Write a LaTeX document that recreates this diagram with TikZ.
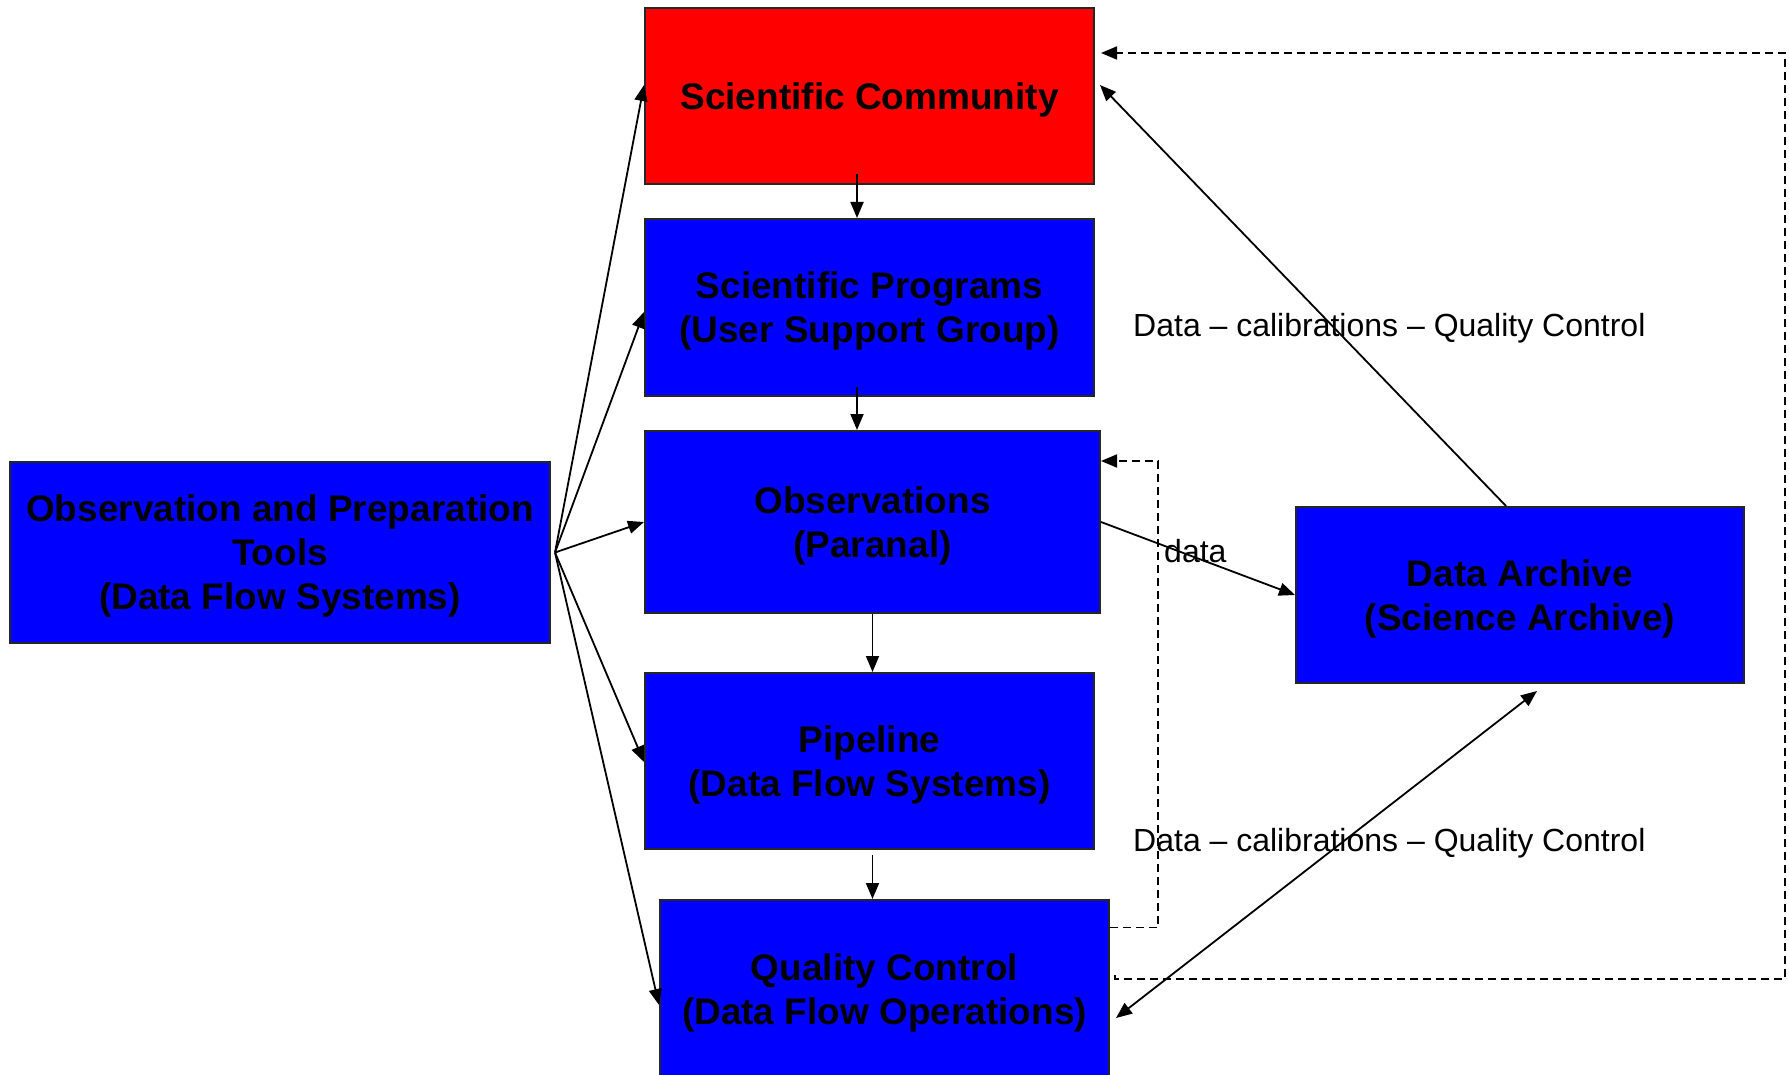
\documentclass[tikz,border=0pt]{standalone}
\usepackage{fontspec}
\setmainfont{Liberation Sans}
\usetikzlibrary{arrows.meta}
\definecolor{boxblue}{RGB}{0,0,255}
\definecolor{boxred}{RGB}{255,0,0}
\begin{document}
\begin{tikzpicture}[x=1pt,y=-1pt,
  unit/.style={draw=black!85, line width=2pt, inner sep=0pt, align=center,
    text depth=-1pt, font=\fontsize{37}{44}\selectfont\bfseries},
  bluebox/.style={unit, fill=boxblue},
  redbox/.style={unit, fill=boxred},
  flow/.style={line width=1.8pt, -{Triangle[length=16pt,width=13pt]}},
  twoway/.style={line width=1.8pt, {Triangle[length=16pt,width=13pt]}-{Triangle[length=16pt,width=13pt]}},
  feedback/.style={line width=1.8pt, dash pattern=on 8pt off 5pt, -{Triangle[length=16pt,width=13pt]}},
  caption/.style={inner sep=0pt, anchor=base west, font=\fontsize{32}{38}\selectfont}
]
\useasboundingbox (0,0) rectangle (1789,1075);
\clip (0,0) rectangle (1789,1075);

% boxes
\node[redbox,  minimum width=449pt, minimum height=176pt] (scicom)  at (869.5,96)   {Scientific Community};
\node[bluebox, minimum width=449pt, minimum height=177pt] (sciprog) at (869.5,307.5) {Scientific Programs\\(User Support Group)};
\node[bluebox, minimum width=455pt, minimum height=182pt] (obs)     at (872.5,522)  {Observations\\(Paranal)};
\node[bluebox, minimum width=449pt, minimum height=176pt] (pipe)    at (869.5,761)  {Pipeline\\(Data Flow Systems)};
\node[bluebox, minimum width=449pt, minimum height=178pt] (qc)      at (884.5,989)  {Quality Control\\(Data Flow Operations)};
\node[bluebox, minimum width=540pt, minimum height=181pt] (tools)   at (280,552.5)  {Observation and Preparation\\Tools\\(Data Flow Systems)};
\node[bluebox, minimum width=448pt, minimum height=176pt] (archive) at (1520,595)   {Data Archive\\(Science Archive)};

% fan of tool arrows, all leaving one point just right of the tools box
\coordinate (fan) at ([xshift=4pt]tools.east);
\draw[flow] (fan) -- ([yshift=11pt]scicom.west);
\draw[flow] (fan) -- ([yshift=-4.5pt]sciprog.west);
\draw[flow] (fan) -- (obs.west);
\draw[flow] (fan) -- ([yshift=-1pt]pipe.west);
\draw[flow] (fan) -- ([yshift=-16pt]qc.west);

% main chain
\draw[flow] ([shift={(-12.5pt,11pt)}]scicom.south) -- ([xshift=-12.5pt]sciprog.north);
\draw[flow] ([shift={(-12.5pt,10pt)}]sciprog.south) -- ([xshift=-15.5pt]obs.north);
\draw[flow] (obs.south) -- ([xshift=3pt]pipe.north);
\draw[flow] ([shift={(3pt,-5pt)}]pipe.south) -- ([xshift=-12pt]qc.north);

% data to the archive
\draw[flow] (obs.east) -- (archive.west);
\node[caption] (datalbl) at (1164,562) {data};

% archive links
\draw[flow] ([xshift=-14pt]archive.north) -- ([shift={(5pt,11pt)}]scicom.east);
\draw[twoway] ([shift={(6pt,-29pt)}]qc.east) -- ([shift={(17pt,-7pt)}]archive.south);
\node[caption] (lblup) at (1133,337) {Data – calibrations – Quality Control};
\node[caption] (lbldown) at (1133,851) {Data – calibrations – Quality Control};

% dashed feedback loops
\draw[feedback] ([yshift=61.5pt]qc.east) -- ++(48,0) |- ([yshift=61pt]obs.east);
\coordinate (farright) at (1785,53);
\draw[feedback] ([shift={(5pt,14pt)}]qc.east) -- ++(0,4) -| (farright) -- ([shift={(6pt,43pt)}]scicom.east);
\end{tikzpicture}
\end{document}
